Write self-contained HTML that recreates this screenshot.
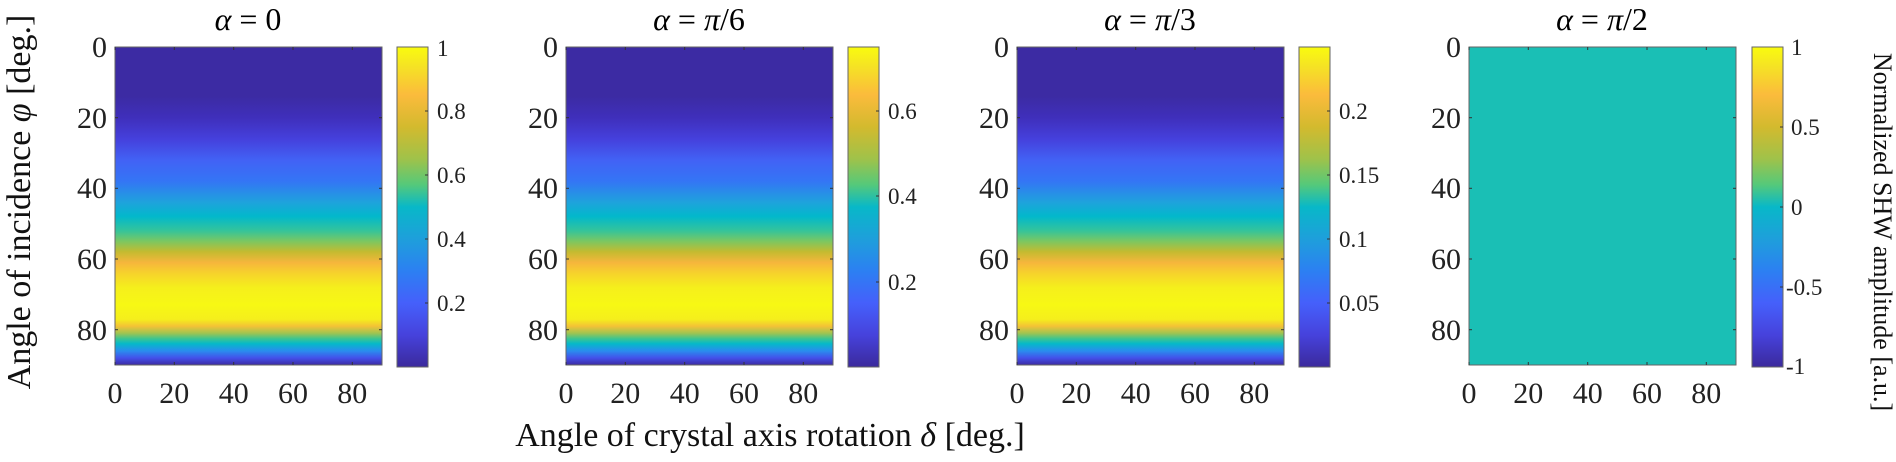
<!DOCTYPE html>
<html><head><meta charset="utf-8"><style>
html,body{margin:0;padding:0;background:#fff;}
svg, svg text{font-family:"Liberation Serif",serif;}
</style></head><body>
<svg width="1896" height="457" viewBox="0 0 1896 457" xmlns="http://www.w3.org/2000/svg" font-family="Liberation Serif, serif">
<defs>
<linearGradient id="hm" x1="0" y1="0" x2="0" y2="1">
<stop offset="0" stop-color="#3c2ba3"/>
<stop offset="0.155" stop-color="#3c2ba3"/>
<stop offset="0.222" stop-color="#3f2fbb"/>
<stop offset="0.289" stop-color="#4540dc"/>
<stop offset="0.356" stop-color="#4262f5"/>
<stop offset="0.422" stop-color="#3475f5"/>
<stop offset="0.489" stop-color="#1ea3dc"/>
<stop offset="0.533" stop-color="#02b8cb"/>
<stop offset="0.578" stop-color="#35c49a"/>
<stop offset="0.611" stop-color="#7cc761"/>
<stop offset="0.644" stop-color="#c4bb30"/>
<stop offset="0.678" stop-color="#f6b63c"/>
<stop offset="0.711" stop-color="#f6d22c"/>
<stop offset="0.756" stop-color="#f5ef1c"/>
<stop offset="0.811" stop-color="#f7f814"/>
<stop offset="0.856" stop-color="#f5ef1c"/>
<stop offset="0.878" stop-color="#f4c236"/>
<stop offset="0.9" stop-color="#a0c450"/>
<stop offset="0.917" stop-color="#3ec58f"/>
<stop offset="0.933" stop-color="#05b9c9"/>
<stop offset="0.956" stop-color="#2a8cee"/>
<stop offset="0.978" stop-color="#4450ea"/>
<stop offset="1" stop-color="#3c2ba3"/>
</linearGradient>
<linearGradient id="cb" x1="0" y1="0" x2="0" y2="1">
<stop offset="0" stop-color="#f9fb0e"/>
<stop offset="0.06" stop-color="#f5e324"/>
<stop offset="0.15" stop-color="#fbbb3c"/>
<stop offset="0.25" stop-color="#d3ba2e"/>
<stop offset="0.35" stop-color="#9fc24a"/>
<stop offset="0.43" stop-color="#55c97a"/>
<stop offset="0.5" stop-color="#08b8c8"/>
<stop offset="0.6" stop-color="#1e9fdb"/>
<stop offset="0.7" stop-color="#2c80f2"/>
<stop offset="0.8" stop-color="#4560fb"/>
<stop offset="0.9" stop-color="#4642dc"/>
<stop offset="1" stop-color="#3b2a9c"/>
</linearGradient>
<g id="ticks" stroke="#333" stroke-width="1">
<line x1="0" y1="47" x2="0" y2="50"/><line x1="59.3" y1="47" x2="59.3" y2="50"/><line x1="118.7" y1="47" x2="118.7" y2="50"/><line x1="178" y1="47" x2="178" y2="50"/><line x1="237.3" y1="47" x2="237.3" y2="50"/>
<line x1="0" y1="365" x2="0" y2="362"/><line x1="59.3" y1="365" x2="59.3" y2="362"/><line x1="118.7" y1="365" x2="118.7" y2="362"/><line x1="178" y1="365" x2="178" y2="362"/><line x1="237.3" y1="365" x2="237.3" y2="362"/>
<line x1="0" y1="117.7" x2="3" y2="117.7"/><line x1="0" y1="188.3" x2="3" y2="188.3"/><line x1="0" y1="259" x2="3" y2="259"/><line x1="0" y1="329.7" x2="3" y2="329.7"/>
<line x1="267" y1="117.7" x2="264" y2="117.7"/><line x1="267" y1="188.3" x2="264" y2="188.3"/><line x1="267" y1="259" x2="264" y2="259"/><line x1="267" y1="329.7" x2="264" y2="329.7"/>
</g>
<g id="labs" font-size="30" fill="#222" font-family="Liberation Serif, serif">
<g text-anchor="end"><text x="-8" y="57">0</text><text x="-8" y="128">20</text><text x="-8" y="198">40</text><text x="-8" y="269">60</text><text x="-8" y="340">80</text></g>
<g text-anchor="middle"><text x="0" y="403">0</text><text x="59.3" y="403">20</text><text x="118.7" y="403">40</text><text x="178" y="403">60</text><text x="237.3" y="403">80</text></g>
</g>
</defs>

<!-- Panel 1 -->
<g transform="translate(115,0)">
<rect x="0" y="47" width="267" height="318" fill="url(#hm)" stroke="#666" stroke-width="1"/>
<use href="#ticks"/><use href="#labs"/>
<text x="133" y="30" font-size="32" text-anchor="middle"><tspan font-style="italic">α</tspan> = 0</text>
<rect x="282" y="47" width="31" height="320" fill="url(#cb)" stroke="#666" stroke-width="1"/>
<g font-size="23" fill="#222"><text x="322" y="56">1</text><text x="322" y="119">0.8</text><text x="322" y="183">0.6</text><text x="322" y="247">0.4</text><text x="322" y="311">0.2</text></g>
<g stroke="#333"><line x1="310" y1="111" x2="313" y2="111"/><line x1="310" y1="175" x2="313" y2="175"/><line x1="310" y1="239" x2="313" y2="239"/><line x1="310" y1="303" x2="313" y2="303"/></g>
</g>

<!-- Panel 2 -->
<g transform="translate(566,0)">
<rect x="0" y="47" width="267" height="318" fill="url(#hm)" stroke="#666" stroke-width="1"/>
<use href="#ticks"/><use href="#labs"/>
<text x="133" y="30" font-size="32" text-anchor="middle"><tspan font-style="italic">α</tspan> = <tspan font-style="italic">π</tspan>/6</text>
<rect x="282" y="47" width="31" height="320" fill="url(#cb)" stroke="#666" stroke-width="1"/>
<g font-size="23" fill="#222"><text x="322" y="119">0.6</text><text x="322" y="204">0.4</text><text x="322" y="290">0.2</text></g>
<g stroke="#333"><line x1="310" y1="111" x2="313" y2="111"/><line x1="310" y1="196" x2="313" y2="196"/><line x1="310" y1="282" x2="313" y2="282"/></g>
</g>

<!-- Panel 3 -->
<g transform="translate(1017,0)">
<rect x="0" y="47" width="267" height="318" fill="url(#hm)" stroke="#666" stroke-width="1"/>
<use href="#ticks"/><use href="#labs"/>
<text x="133" y="30" font-size="32" text-anchor="middle"><tspan font-style="italic">α</tspan> = <tspan font-style="italic">π</tspan>/3</text>
<rect x="282" y="47" width="31" height="320" fill="url(#cb)" stroke="#666" stroke-width="1"/>
<g font-size="23" fill="#222"><text x="322" y="119">0.2</text><text x="322" y="183">0.15</text><text x="322" y="247">0.1</text><text x="322" y="311">0.05</text></g>
<g stroke="#333"><line x1="310" y1="111" x2="313" y2="111"/><line x1="310" y1="175" x2="313" y2="175"/><line x1="310" y1="239" x2="313" y2="239"/><line x1="310" y1="303" x2="313" y2="303"/></g>
</g>

<!-- Panel 4 -->
<g transform="translate(1469,0)">
<rect x="0" y="47" width="267" height="318" fill="#1abfb5" stroke="#666" stroke-width="1"/>
<use href="#ticks"/><use href="#labs"/>
<text x="133" y="30" font-size="32" text-anchor="middle"><tspan font-style="italic">α</tspan> = <tspan font-style="italic">π</tspan>/2</text>
<rect x="283" y="47" width="31" height="320" fill="url(#cb)" stroke="#666" stroke-width="1"/>
<g font-size="23" fill="#222"><text x="322" y="55">1</text><text x="322" y="135">0.5</text><text x="322" y="215">0</text><text x="317" y="295">-0.5</text><text x="317" y="374">-1</text></g>
<g stroke="#333"><line x1="311" y1="127" x2="314" y2="127"/><line x1="311" y1="207" x2="314" y2="207"/><line x1="311" y1="287" x2="314" y2="287"/></g>
</g>

<!-- Axis labels -->
<text x="770" y="446" font-size="34" text-anchor="middle" fill="#111">Angle of crystal axis rotation <tspan font-style="italic">δ</tspan> [deg.]</text>
<text transform="translate(30,202) rotate(-90)" font-size="34" text-anchor="middle" fill="#111">Angle of incidence <tspan font-style="italic">φ</tspan> [deg.]</text>
<text transform="translate(1874,232) rotate(90)" font-size="26" text-anchor="middle" fill="#111">Normalized SHW amplitude [a.u.]</text>
</svg>
</body></html>
